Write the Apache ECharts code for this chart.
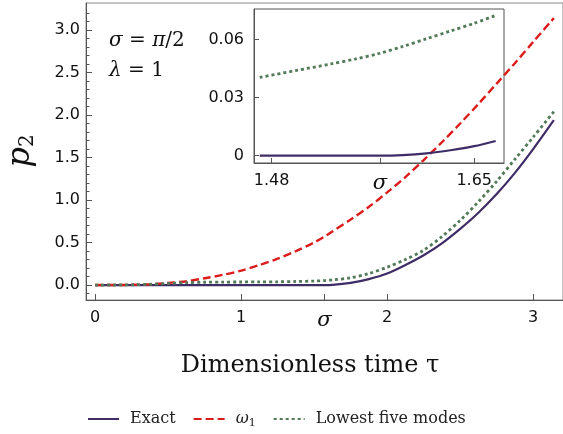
<!DOCTYPE html>
<html>
<head>
<meta charset="utf-8">
<script src="https://cdn.jsdelivr.net/npm/echarts@6/dist/echarts.min.js"></script>
<style>
  html, body { margin: 0; padding: 0; background: #fff; }
  #chart { width: 563px; height: 434px; }
</style>
</head>
<body>
<div id="chart"></div>
<script>
const SIGMA = Math.PI / 2;

// main plot: p2 vs dimensionless time tau
const tau       = [0, 0.125, 0.25, 0.375, 0.5, 0.625, 0.75, 0.875, 1.0, 1.125, 1.25, 1.375, 1.5, 1.5708,
                   1.625, 1.75, 1.875, 2.0, 2.125, 2.25, 2.375, 2.5, 2.625, 2.75, 2.875, 3.0, 3.1416];
const exactP2   = [0, 0, 0, 0, 0, 0, 0, 0, 0, 0, 0, 0, 0, 0,
                   0.002, 0.025, 0.07, 0.135, 0.235, 0.35, 0.49, 0.66, 0.85, 1.07, 1.32, 1.60, 1.94];
const omega1P2  = [0, 0.0003, 0.003, 0.009, 0.025, 0.045, 0.08, 0.12, 0.17, 0.235, 0.31, 0.40, 0.50, 0.57,
                   0.63, 0.77, 0.92, 1.09, 1.27, 1.47, 1.68, 1.90, 2.13, 2.37, 2.61, 2.86, 3.14];
const lowest5P2 = [0, 0.0005, 0.003, 0.009, 0.018, 0.028, 0.033, 0.035, 0.036, 0.037, 0.038, 0.042, 0.047, 0.053,
                   0.06, 0.085, 0.135, 0.21, 0.30, 0.41, 0.57, 0.76, 0.98, 1.22, 1.48, 1.74, 2.04];

// inset: zoom around sigma
const insetSigma   = [1.47, 1.50, 1.53, 1.55, 1.5708, 1.59, 1.61, 1.63, 1.65, 1.668];
const insetExact   = [0, 0, 0, 0, 0, 0.0003, 0.0012, 0.0028, 0.0049, 0.0076];
const insetLowest5 = [0.0405, 0.044, 0.0475, 0.050, 0.053, 0.0565, 0.0605, 0.0645, 0.0685, 0.0726];

// ticks
const xTicks      = [0, 1, SIGMA, 2, 3];
const yTicks      = [0, 0.5, 1.0, 1.5, 2.0, 2.5, 3.0];
const yMinorTicks = [-0.1, 0.1, 0.2, 0.3, 0.4, 0.6, 0.7, 0.8, 0.9, 1.1, 1.2, 1.3, 1.4, 1.6, 1.7, 1.8, 1.9,
                     2.1, 2.2, 2.3, 2.4, 2.6, 2.7, 2.8, 2.9, 3.1, 3.2];
const insetXTicks = [1.48, SIGMA, 1.65];
const insetYTicks = [0, 0.03, 0.06];

const names = ['Exact', 'ω1', 'Lowest five modes'];
const colors = ['#3e2c66', '#dc1c1c', '#527a58'];

const zip = (xs, ys) => xs.map((x, i) => [x, ys[i]]);
const isSigma = v => Math.abs(v - SIGMA) < 1e-6;

const axisColor = '#555';
const labelFont = 'DejaVu Sans';
const serif = 'DejaVu Serif';

const sigmaRich = { s: { fontFamily: serif, fontStyle: 'italic', fontSize: 21, color: '#111' } };

const chart = echarts.init(document.getElementById('chart'));

chart.setOption({
    animation: false,
    color: colors,
    grid: [
        { left: 86, top: 3, width: 480, height: 297, show: true, borderColor: '#888', borderWidth: 1 },
        { left: 254, top: 9, width: 250, height: 154, show: true, borderColor: '#555', borderWidth: 1 }
    ],
    xAxis: [
        {
            type: 'value', gridIndex: 0, min: -0.0628, max: 3.2044,
            axisLine: { onZero: false, lineStyle: { color: axisColor } },
            axisTick: { inside: true, length: 6, customValues: xTicks, lineStyle: { color: axisColor } },
            axisLabel: {
                customValues: xTicks, margin: 10, fontFamily: labelFont, fontSize: 16, color: '#111',
                formatter: v => isSigma(v) ? '{s|σ}' : String(v),
                rich: sigmaRich
            },
            splitLine: { show: false }
        },
        {
            type: 'value', gridIndex: 1, min: 1.4652, max: 1.675,
            axisLine: { onZero: false, lineStyle: { color: axisColor } },
            axisTick: { inside: true, length: 5, customValues: insetXTicks, lineStyle: { color: axisColor } },
            axisLabel: {
                customValues: insetXTicks, margin: 10, fontFamily: labelFont, fontSize: 16, color: '#111',
                formatter: v => isSigma(v) ? '{s|σ}' : v.toFixed(2),
                rich: sigmaRich
            },
            splitLine: { show: false }
        }
    ],
    yAxis: [
        {
            type: 'value', gridIndex: 0, min: -0.176, max: 3.318,
            axisLine: { show: true, onZero: false, lineStyle: { color: axisColor } },
            axisTick: { inside: true, length: 6, customValues: yTicks, lineStyle: { color: axisColor } },
            axisLabel: {
                customValues: yTicks, margin: 6, fontFamily: labelFont, fontSize: 16, color: '#111',
                formatter: v => v.toFixed(1)
            },
            splitLine: { show: false }
        },
        {
            // minor ticks of the main y axis
            type: 'value', gridIndex: 0, min: -0.176, max: 3.318, position: 'left',
            axisLine: { show: false, onZero: false },
            axisTick: { inside: true, length: 3.5, customValues: yMinorTicks, lineStyle: { color: axisColor } },
            axisLabel: { show: false },
            splitLine: { show: false }
        },
        {
            type: 'value', gridIndex: 1, min: -0.0038, max: 0.0759,
            axisLine: { show: true, onZero: false, lineStyle: { color: axisColor } },
            axisTick: { inside: true, length: 5, customValues: insetYTicks, lineStyle: { color: axisColor } },
            axisLabel: {
                customValues: insetYTicks, margin: 10, fontFamily: labelFont, fontSize: 16, color: '#111',
                formatter: v => v === 0 ? '0' : v.toFixed(2)
            },
            splitLine: { show: false }
        }
    ],
    legend: {
        data: names,
        left: 87, top: 411, padding: 0,
        itemWidth: 31, itemHeight: 14, itemGap: 17,
        itemStyle: { opacity: 0 },
        textStyle: {
            fontFamily: serif, fontSize: 16, color: '#222', padding: [0, 0, 0, 6],
            rich: {
                w: { fontFamily: serif, fontStyle: 'italic', fontSize: 16, color: '#222' },
                sub: { fontFamily: serif, fontSize: 11, color: '#222', verticalAlign: 'bottom', padding: [8, 0, 0, 0] }
            }
        },
        formatter: n => n === 'ω1' ? '{w|ω}{sub|1}' : n
    },
    graphic: [
        {
            type: 'text', x: 21, y: 151, rotation: Math.PI / 2,
            style: {
                text: '{p|p}{s|2}', align: 'center', verticalAlign: 'middle',
                rich: {
                    p: { fontFamily: serif, fontStyle: 'italic', fontSize: 32, fill: '#111' },
                    s: { fontFamily: serif, fontSize: 20, fill: '#111', padding: [14, 0, 0, 0] }
                }
            }
        },
        {
            type: 'text', x: 310, y: 366,
            style: { text: 'Dimensionless time τ', fontFamily: serif, fontSize: 24, fill: '#111', align: 'center', verticalAlign: 'middle' }
        },
        {
            type: 'text', x: 109, y: 41,
            style: {
                text: '{i|σ} = {i|π}/2', fontFamily: serif, fontSize: 20, fill: '#111', verticalAlign: 'middle',
                rich: { i: { fontFamily: serif, fontStyle: 'italic', fontSize: 20, fill: '#111' } }
            }
        },
        {
            type: 'text', x: 109, y: 71,
            style: {
                text: '{i|λ} = 1', fontFamily: serif, fontSize: 20, fill: '#111', verticalAlign: 'middle',
                rich: { i: { fontFamily: serif, fontStyle: 'italic', fontSize: 20, fill: '#111' } }
            }
        }
    ],
    series: [
        {
            name: 'Exact', type: 'line', xAxisIndex: 0, yAxisIndex: 0,
            data: zip(tau, exactP2), symbol: 'none', smooth: 0.3,
            lineStyle: { color: colors[0], width: 2.2 }
        },
        {
            name: 'ω1', type: 'line', xAxisIndex: 0, yAxisIndex: 0,
            data: zip(tau, omega1P2), symbol: 'none', smooth: 0.3,
            lineStyle: { color: colors[1], width: 2.4, type: [8, 4] }
        },
        {
            name: 'Lowest five modes', type: 'line', xAxisIndex: 0, yAxisIndex: 0,
            data: zip(tau, lowest5P2), symbol: 'none', smooth: 0.3,
            lineStyle: { color: colors[2], width: 2.8, type: [3, 3] }
        },
        {
            name: 'Exact', type: 'line', xAxisIndex: 1, yAxisIndex: 2,
            data: zip(insetSigma, insetExact), symbol: 'none', smooth: 0.3,
            lineStyle: { color: colors[0], width: 2.2 }
        },
        {
            name: 'Lowest five modes', type: 'line', xAxisIndex: 1, yAxisIndex: 2,
            data: zip(insetSigma, insetLowest5), symbol: 'none', smooth: 0.3,
            lineStyle: { color: colors[2], width: 2.8, type: [3, 3] }
        }
    ]
});
</script>
</body>
</html>
